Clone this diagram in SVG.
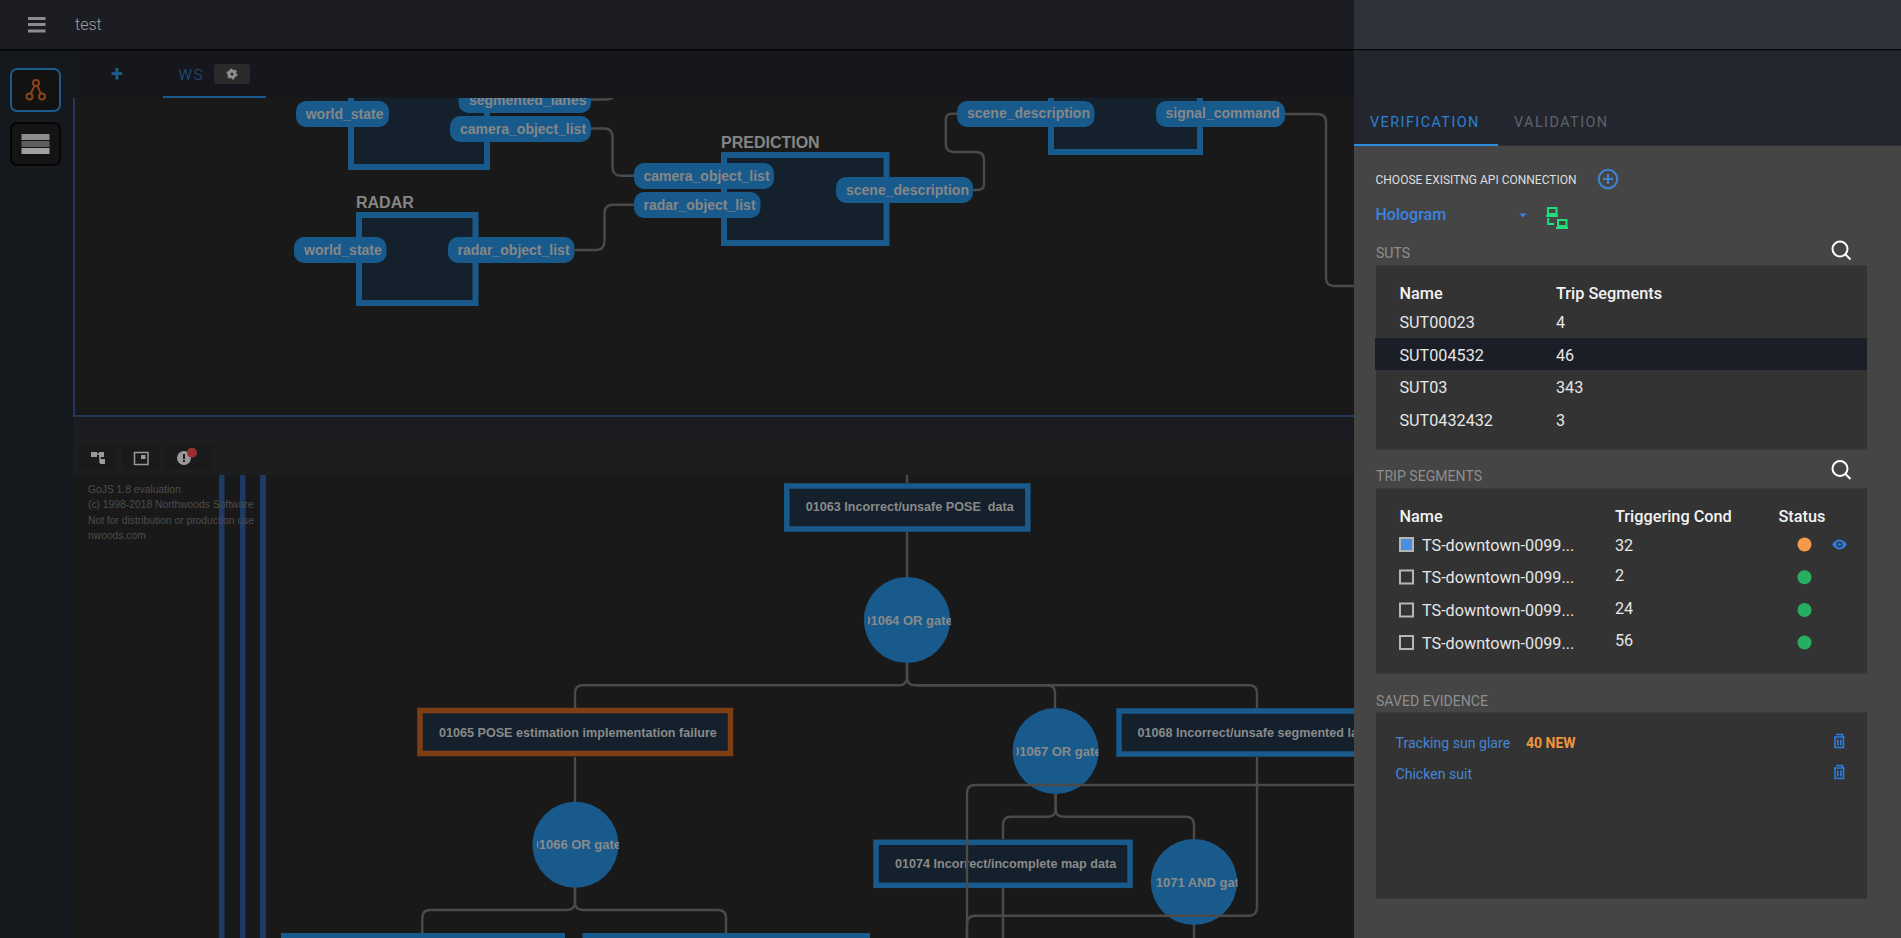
<svg xmlns="http://www.w3.org/2000/svg" width="1901" height="938" viewBox="0 0 1901 938">
<style>
.pill{fill:#185a8c}
.box{fill:#14202b;stroke:#185a8c;stroke-width:6}
.fbox{fill:#14202b;stroke:#185a8c;stroke-width:5.500}
.gate{fill:#185a8c}
.pt{font:bold 14px "Liberation Sans",Arial,sans-serif;fill:#878787}
.bt{font:bold 12.600px "Liberation Sans",Arial,sans-serif;fill:#8a8a8a;white-space:pre}
.gt{font:bold 13px "Liberation Sans",Arial,sans-serif;fill:#8a8a8a}
.lb{font:bold 16px "Liberation Sans",Arial,sans-serif;fill:#858585}
.go{font:10.300px "Liberation Sans",Arial,sans-serif;fill:#4d4d4d}
.cn{fill:none;stroke:#4a4a4a;stroke-width:2.400}
.vl{fill:#1c3a63}
.rb{font:16.200px Roboto,sans-serif;fill:#e6e6e6}
.rh{font:500 16.300px Roboto,sans-serif;fill:#f2f2f2}
.sec{font:14.100px Roboto,sans-serif;fill:#8e8e8e}
.ln{font:14.100px Roboto,sans-serif;fill:#4586d6}
.cb{fill:none;stroke:#b5b5b5;stroke-width:2}
.si{fill:none;stroke:#fff;stroke-width:2}
.tr{fill:none;stroke:#2f7be0;stroke-width:1.600}
</style>
<defs>
<clipPath id="cv1"><rect x="73" y="98" width="1281" height="320"/></clipPath>
<clipPath id="cv2"><rect x="73" y="475" width="1281" height="463"/></clipPath>
<clipPath id="g66"><rect x="537" y="830" width="82" height="30"/></clipPath>
<clipPath id="g64"><rect x="868" y="606" width="83" height="30"/></clipPath>
<clipPath id="g67"><rect x="1016.500" y="737" width="82" height="30"/></clipPath>
<clipPath id="g71"><rect x="1155" y="868" width="82.500" height="30"/></clipPath>
</defs>
<rect width="1901" height="938" fill="#15181d"/>
<rect width="1354" height="49" fill="#1b1d22"/>
<rect x="73" y="50" width="1281" height="48" fill="#15171c"/>
<rect x="73" y="416" width="1281" height="24" fill="#1a1c21"/>
<rect x="73" y="98" width="1281" height="320" fill="#191919"/>
<rect x="73" y="440" width="1281" height="35" fill="#1c1d1f"/>
<rect x="73" y="475" width="1281" height="463" fill="#191919"/>
<rect y="49" width="1354" height="1.500" fill="#050505"/>

<g id="header">
<rect x="28" y="17" width="17.500" height="3" fill="#8c8c8c"/>
<rect x="28" y="23" width="17.500" height="3" fill="#8c8c8c"/>
<rect x="28" y="29.500" width="17.500" height="3" fill="#8c8c8c"/>
<text x="75" y="30" style="font:300 16px Roboto,sans-serif;fill:#a0a0a0">test</text>
</g>
<g id="sidebar">
<rect x="11" y="69" width="49" height="42" rx="6" fill="#121212" stroke="#1c5a8c" stroke-width="2"/>
<path d="M36 83L29.500 96M36 83L42 96" stroke="#8a4216" stroke-width="2" fill="none"/>
<circle cx="36" cy="83" r="3" fill="#121212" stroke="#8a4216" stroke-width="2"/>
<circle cx="29.500" cy="96.500" r="3" fill="#121212" stroke="#8a4216" stroke-width="2"/>
<circle cx="42" cy="96.500" r="3" fill="#121212" stroke="#8a4216" stroke-width="2"/>
<rect x="11" y="123" width="49" height="42" rx="6" fill="#141414" stroke="#050505" stroke-width="2"/>
<rect x="21.500" y="134" width="28" height="6" fill="#8c8c8c"/>
<rect x="21.500" y="141" width="28" height="6" fill="#5e5e5e"/>
<rect x="21.500" y="148" width="28" height="6" fill="#a0a0a0"/>
</g>
<g id="tabs">
<text x="117" y="81" text-anchor="middle" style="font:700 22px Roboto,sans-serif;fill:#1e5a8e">+</text>
<text x="178.500" y="79.500" style="font:300 15px Roboto,sans-serif;letter-spacing:1.800px;fill:#1e5a8e">WS</text>
<rect x="214" y="64" width="36" height="20" rx="3" fill="#2a2a2a"/>
<circle cx="232" cy="74" r="3" fill="none" stroke="#8f8f8f" stroke-width="3"/>
<circle cx="232" cy="74" r="4.800" fill="none" stroke="#8f8f8f" stroke-width="1.500" stroke-dasharray="2.200 2.800"/>
<rect x="163" y="96" width="103" height="2" fill="#18598f"/>
</g>

<g clip-path="url(#cv1)">
<path d="M74 98V416H1354" fill="none" stroke="#24385e" stroke-width="2"/>
<g id="node-upper-left">
<rect x="351" y="60" width="136" height="107" class="box"/>
<rect x="296" y="101" width="93" height="26" rx="10" class="pill"/>
<text x="305.700" y="119.300" class="pt">world_state</text>
<rect x="458.500" y="73" width="132.500" height="40" rx="10" class="pill"/>
<text x="469" y="105" class="pt">segmented_lanes</text>
<rect x="450" y="116" width="141" height="26" rx="10" class="pill"/>
<text x="460" y="133.500" class="pt">camera_object_list</text>
</g>
<g id="node-radar">
<text x="356" y="208" class="lb">RADAR</text>
<rect x="359" y="215" width="116.500" height="88" class="box"/>
<rect x="294" y="237" width="92.500" height="26" rx="10" class="pill"/>
<text x="304" y="255" class="pt">world_state</text>
<rect x="448" y="237" width="126.500" height="26" rx="10" class="pill"/>
<text x="457.500" y="255" class="pt">radar_object_list</text>
</g>
<g id="node-prediction">
<text x="721" y="148" class="lb">PREDICTION</text>
<rect x="724" y="155" width="162.500" height="88" class="box"/>
<rect x="634" y="163" width="140" height="26" rx="10" class="pill"/>
<text x="643.500" y="180.500" class="pt">camera_object_list</text>
<rect x="634" y="192" width="126.500" height="26" rx="10" class="pill"/>
<text x="643.500" y="209.500" class="pt">radar_object_list</text>
<rect x="836" y="177" width="137" height="26" rx="10" class="pill"/>
<text x="846" y="195" class="pt">scene_description</text>
</g>
<g id="node-planning">
<rect x="1051" y="60" width="149" height="92" class="box"/>
<rect x="957" y="101" width="137.500" height="26" rx="10" class="pill"/>
<text x="967" y="118" class="pt">scene_description</text>
<rect x="1156" y="101" width="129" height="26" rx="10" class="pill"/>
<text x="1165.500" y="118" class="pt">signal_command</text>
</g>
</g>

<g clip-path="url(#cv2)">
<g id="watermark">
<rect x="219" y="475" width="5.500" height="463" class="vl"/>
<rect x="240" y="475" width="5.500" height="463" class="vl"/>
<rect x="260" y="475" width="6" height="463" class="vl"/>
<text x="88" y="493.300" class="go">GoJS 1.8 evaluation</text>
<text x="88" y="508.300" class="go">(c) 1998-2018 Northwoods Software</text>
<text x="88" y="523.500" class="go">Not for distribution or production use</text>
<text x="88" y="538.700" class="go">nwoods.com</text>
</g>
<g id="n01063"><rect x="786.800" y="486" width="241" height="43" class="fbox"/><text x="805.800" y="511" class="bt">01063 Incorrect/unsafe POSE  data</text></g>
<g id="n01064"><ellipse cx="907" cy="620" rx="43.200" ry="43" class="gate"/><text x="863.200" y="624.500" class="gt" clip-path="url(#g64)">01064 OR gate</text></g>
<g id="n01065"><rect x="420" y="710.500" width="310.500" height="43" class="fbox" style="stroke:#7f3f14"/><text x="439" y="736.500" class="bt">01065 POSE estimation implementation failure</text></g>
<g id="n01066"><ellipse cx="575.400" cy="844.800" rx="43" ry="43" class="gate"/><text x="531.500" y="849" class="gt" clip-path="url(#g66)">01066 OR gate</text></g>
<g id="n01067"><ellipse cx="1055.600" cy="751" rx="43" ry="43" class="gate"/><text x="1012" y="755.500" class="gt" clip-path="url(#g67)">01067 OR gate</text></g>
<g id="n01068"><rect x="1119" y="711" width="300" height="43" class="fbox"/><text x="1137.500" y="737" class="bt">01068 Incorrect/unsafe segmented la</text></g>
<g id="n01074"><rect x="876" y="842.300" width="254" height="43" class="fbox"/><text x="895" y="867.500" class="bt">01074 Incorrect/incomplete map data</text></g>
<g id="n01071"><ellipse cx="1194" cy="882" rx="43.200" ry="43" class="gate"/><text x="1155.800" y="886.500" class="gt" clip-path="url(#g71)">1071 AND gat</text></g>
<g id="n-child-a"><rect x="281" y="933" width="284" height="10" class="gate"/></g>
<g id="n-child-b"><rect x="582.500" y="933" width="287.500" height="10" class="gate"/></g>
</g>

<g id="connectors">
<g clip-path="url(#cv1)">
<path class="cn" d="M591 99.500H606Q612 99.500 616 95"/>
<path class="cn" d="M591 128.500H604Q612.500 128.500 612.500 137V167Q612.500 175.700 621 175.700H634"/>
<path class="cn" d="M574.500 250H596Q604.500 250 604.500 241V213Q604.500 204.700 613 204.700H634"/>
<path class="cn" d="M973 190H978Q984 190 984 184V160Q984 152 976 152H954Q945.800 152 945.800 144V120Q945.800 113.700 952 113.700H957"/>
<path class="cn" d="M1285 114H1317Q1326 114 1326 122V278Q1326 286 1334 286H1354"/>
</g>
<g clip-path="url(#cv2)">
<path class="cn" d="M907 475V483M907 532V577"/>
<path class="cn" d="M907 663V677Q907 685.300 899 685.300H583Q575 685.300 575 693V708"/>
<path class="cn" d="M907 663V677Q907 685.300 915 685.300H1047Q1055 685.300 1055 693V708"/>
<path class="cn" d="M915 685.300H1249Q1257 685.300 1257 693V708"/>
<path class="cn" d="M575 757V802"/>
<path class="cn" d="M575 887V902Q575 910 567 910H430Q422.300 910 422.300 918V933"/>
<path class="cn" d="M575 887V902Q575 910 583 910H718Q726 910 726 918V933"/>
<path class="cn" d="M1055.600 794V809Q1055.600 816.700 1048 816.700H1011Q1003 816.700 1003 825V839"/>
<path class="cn" d="M1055.600 794V809Q1055.600 816.700 1063 816.700H1186Q1194 816.700 1194 825V839"/>
<path class="cn" d="M1354 785H975Q967 785 967 793V938"/>
<path class="cn" d="M1257 757V907Q1257 915.700 1249 915.700H975Q967 915.700 967 924V938"/>
<path class="cn" d="M1003 888V938"/>
<path class="cn" d="M1194 925V938"/>
</g>
</g>

<g id="canvas-toolbar">
<rect x="79" y="445" width="38" height="25" rx="2" fill="#191a1b"/>
<rect x="122" y="445" width="38" height="25" rx="2" fill="#191a1b"/>
<rect x="165" y="445" width="48" height="25" rx="2" fill="#191a1b"/>
<path d="M91 452h6v5h-6zM99 452h5v5h-5zM100 459h5v5h-5z" fill="#9a9a9a"/>
<path d="M97 454h3v8h2" fill="none" stroke="#9a9a9a" stroke-width="1.500"/>
<rect x="134.500" y="452.500" width="13.500" height="12" fill="none" stroke="#9a9a9a" stroke-width="1.500"/>
<rect x="141" y="455" width="4.500" height="4" fill="#9a9a9a"/>
<circle cx="184" cy="458" r="7" fill="#999"/>
<rect x="183" y="454" width="2" height="5" fill="#1a1a1a"/>
<rect x="183" y="460" width="2" height="2" fill="#1a1a1a"/>
<circle cx="192" cy="452.700" r="5" fill="#9a2f2f"/>
</g>

<g id="panel">
<rect x="1354" width="547" height="49" fill="#2d323b"/>
<rect x="1354" y="49" width="547" height="1.500" fill="#0a0a0a"/>
<rect x="1354" y="50.500" width="547" height="95" fill="#23262e"/>
<rect x="1354" y="145.500" width="547" height="792.500" fill="#454545"/>
<rect x="1354" y="144" width="144" height="2" fill="#2f8de0"/>
<text x="1370" y="127" style="font:14.400px Roboto,sans-serif;letter-spacing:1.440px;fill:#2b80d2">VERIFICATION</text>
<text x="1514" y="127" style="font:14.400px Roboto,sans-serif;letter-spacing:1.440px;fill:#5f636a">VALIDATION</text>
<text x="1375.500" y="183.500" style="font:12px Roboto,sans-serif;fill:#dedede">CHOOSE EXISITNG API CONNECTION</text>
<circle cx="1608" cy="179" r="9.300" fill="none" stroke="#3f84d8" stroke-width="2"/>
<path d="M1603 179h10M1608 174v10" stroke="#3f84d8" stroke-width="2"/>
<text x="1375.500" y="219.500" style="font:500 16px Roboto,sans-serif;fill:#3a82e0">Hologram</text>
<path d="M1519.500 213.500h7l-3.500 4z" fill="#3a82e0"/>
<g id="api-status" fill="none" stroke="#1de07b" stroke-width="2">
<rect x="1548" y="208" width="8.500" height="6"/><path d="M1546 216h12"/>
<rect x="1558" y="220" width="8.500" height="6"/><path d="M1556 228h12"/>
<path d="M1548.200 218v6h6"/>
</g>
<text x="1376" y="257.500" class="sec">SUTS</text>
<g id="search-1"><circle cx="1840" cy="249" r="7.500" class="si"/><path d="M1845.500 254.500l5 5" class="si"/></g>
<g id="suts">
<rect x="1376" y="265.500" width="491" height="184" fill="#333"/>
<rect x="1375" y="338" width="492" height="32" fill="#1c1e27"/>
<text x="1399.500" y="298.500" class="rh">Name</text><text x="1556" y="298.500" class="rh">Trip Segments</text>
<text x="1399.500" y="328" class="rb">SUT00023</text><text x="1556" y="328" class="rb">4</text>
<text x="1399.500" y="360.800" class="rb">SUT004532</text><text x="1556" y="360.800" class="rb">46</text>
<text x="1399.500" y="393.300" class="rb">SUT03</text><text x="1556" y="393.300" class="rb">343</text>
<text x="1399.500" y="425.800" class="rb">SUT0432432</text><text x="1556" y="425.800" class="rb">3</text>
</g>
<text x="1376" y="480.500" class="sec">TRIP SEGMENTS</text>
<g id="search-2"><circle cx="1840" cy="468.500" r="7.500" class="si"/><path d="M1845.500 474l5 5" class="si"/></g>
<g id="segments">
<rect x="1376" y="488.500" width="491" height="185" fill="#333"/>
<text x="1399.500" y="521.500" class="rh">Name</text><text x="1615" y="521.500" class="rh">Triggering Cond</text><text x="1778.500" y="521.500" class="rh">Status</text>
<rect x="1400" y="538" width="13" height="13" fill="#4a90e2" stroke="#b5b5b5" stroke-width="2"/>
<rect x="1400" y="570.500" width="13" height="13" class="cb"/>
<rect x="1400" y="603.500" width="13" height="13" class="cb"/>
<rect x="1400" y="636" width="13" height="13" class="cb"/>
<text x="1422" y="550.500" class="rb">TS-downtown-0099...</text><text x="1615" y="550.500" class="rb">32</text>
<text x="1422" y="583.300" class="rb">TS-downtown-0099...</text><text x="1615" y="581.300" class="rb">2</text>
<text x="1422" y="616" class="rb">TS-downtown-0099...</text><text x="1615" y="614" class="rb">24</text>
<text x="1422" y="648.700" class="rb">TS-downtown-0099...</text><text x="1615" y="645.700" class="rb">56</text>
<circle cx="1804.500" cy="544.500" r="7" fill="#f2994a"/>
<circle cx="1804.500" cy="577.300" r="7" fill="#27ae60"/>
<circle cx="1804.500" cy="610" r="7" fill="#27ae60"/>
<circle cx="1804.500" cy="642.500" r="7" fill="#27ae60"/>
<path d="M1832 544.500Q1839.500 534.500 1847 544.500Q1839.500 554.500 1832 544.500Z" fill="#2f7be0"/>
<circle cx="1839.500" cy="544.500" r="3" fill="#333"/><circle cx="1839.500" cy="544.500" r="1.600" fill="#2f7be0"/>
</g>
<text x="1376" y="705.500" class="sec">SAVED EVIDENCE</text>
<g id="evidence">
<rect x="1376" y="712.500" width="491" height="186" fill="#333"/>
<text x="1395.500" y="747.500" class="ln">Tracking sun glare</text>
<text x="1526" y="747.500" style="font:700 14px Roboto,sans-serif;fill:#f0943f">40 NEW</text>
<text x="1395.500" y="779" class="ln">Chicken suit</text>
<path class="tr" d="M1834 737h10.500M1836 734.500h6.500v2.500M1835 737v10.500h8.500V737M1837.800 739.500v6M1840.800 739.500v6"/>
<path class="tr" d="M1834 768h10.500M1836 765.500h6.500v2.500M1835 768v10.500h8.500V768M1837.800 770.500v6M1840.800 770.500v6"/>
</g>
</g>
</svg>
